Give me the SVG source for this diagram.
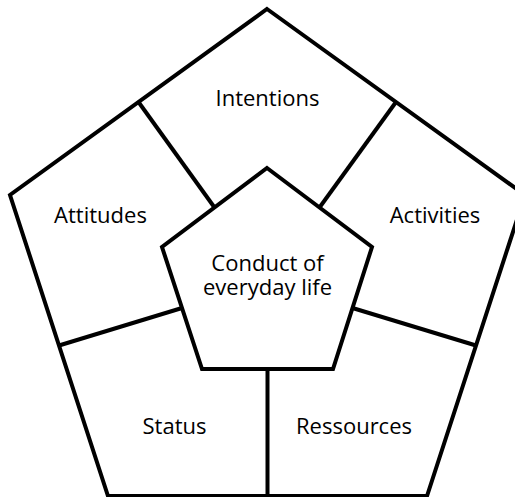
<svg xmlns="http://www.w3.org/2000/svg" width="515" height="497" viewBox="0 0 515 497">
<style>
.ln{fill:none;stroke:#000;stroke-width:4;stroke-linejoin:miter;stroke-linecap:butt}
.t{font-family:"Open Sans","Noto Sans","DejaVu Sans",sans-serif;font-size:22px;fill:#000;text-anchor:middle}
</style>
<rect width="515" height="497" fill="#fff"/>
<g id="outer">
<polygon class="ln" points="267,9 525,195 427,496 108,496 10,195"/>
</g>
<g id="connectors">
<line class="ln" x1="138.5" y1="102" x2="214.5" y2="207.5"/>
<line class="ln" x1="396" y1="102" x2="319.5" y2="207.5"/>
<line class="ln" x1="59" y1="345.5" x2="182" y2="308"/>
<line class="ln" x1="476" y1="345.5" x2="352.5" y2="308"/>
<line class="ln" x1="267.5" y1="369" x2="267.5" y2="496"/>
</g>
<g id="center">
<polygon class="ln" points="267,168 372,247 333,369 202,369 162,247"/>
<text class="t" x="267.5" y="271">Conduct of</text>
<text class="t" x="267.5" y="295">everyday life</text>
</g>
<g id="intentions"><text class="t" x="267.5" y="106">Intentions</text></g>
<g id="attitudes"><text class="t" x="100.5" y="223">Attitudes</text></g>
<g id="activities"><text class="t" x="435" y="223">Activities</text></g>
<g id="status"><text class="t" x="174.5" y="434">Status</text></g>
<g id="ressources"><text class="t" x="354" y="434">Ressources</text></g>
</svg>
